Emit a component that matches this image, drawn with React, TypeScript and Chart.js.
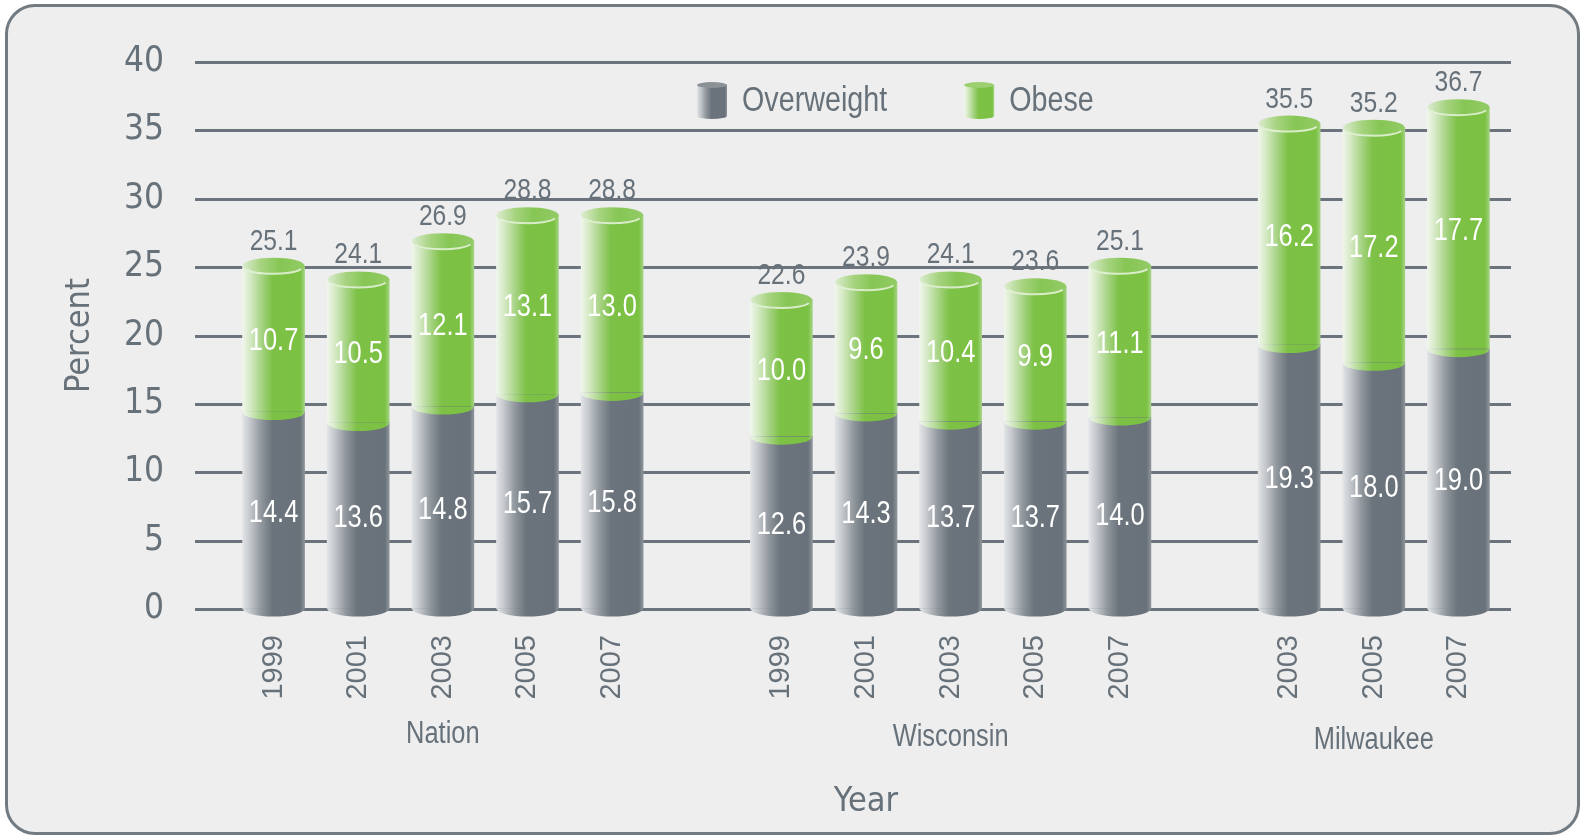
import React, { useEffect, useRef } from 'react';
import { Chart, registerables } from 'chart.js';
Chart.register(...registerables);

// ---------- data ----------
const groupNames = ['Nation', 'Wisconsin', 'Milwaukee'];
const nationYears = ['1999', '2001', '2003', '2005', '2007'];
const wisconsinYears = ['1999', '2001', '2003', '2005', '2007'];
const milwaukeeYears = ['2003', '2005', '2007'];

const nationOverweight = [14.4, 13.6, 14.8, 15.7, 15.8];
const nationObese = [10.7, 10.5, 12.1, 13.1, 13.0];
const nationTotal = [25.1, 24.1, 26.9, 28.8, 28.8];

const wisconsinOverweight = [12.6, 14.3, 13.7, 13.7, 14.0];
const wisconsinObese = [10.0, 9.6, 10.4, 9.9, 11.1];
const wisconsinTotal = [22.6, 23.9, 24.1, 23.6, 25.1];

const milwaukeeOverweight = [19.3, 18.0, 19.0];
const milwaukeeObese = [16.2, 17.2, 17.7];
const milwaukeeTotal = [35.5, 35.2, 36.7];

const seriesNames = ['Overweight', 'Obese'];
const yMin = 0;
const yMax = 40;
const yStep = 5;
const xTitle = 'Year';
const yTitle = 'Percent';

// ---------- category layout: each bar every 4 sub-slots, 7 spare sub-slots between groups ----------
const SLOTS_PER_BAR = 4;
const GAP_SLOTS = 7;
const groupYears = [nationYears, wisconsinYears, milwaukeeYears];
const groupOver = [nationOverweight, wisconsinOverweight, milwaukeeOverweight];
const groupObese = [nationObese, wisconsinObese, milwaukeeObese];
const groupTotal = [nationTotal, wisconsinTotal, milwaukeeTotal];

const labels: string[] = [];
const overData: (number | null)[] = [];
const obeseData: (number | null)[] = [];
const totalData: (number | null)[] = [];
const groupRanges: [number, number][] = [];
function pushEmpty() {
  labels.push('');
  overData.push(null);
  obeseData.push(null);
  totalData.push(null);
}
groupYears.forEach((yrs, g) => {
  if (g > 0) for (let k = 0; k < GAP_SLOTS; k++) pushEmpty();
  const start = labels.length;
  yrs.forEach((y, i) => {
    if (i > 0) for (let k = 0; k < SLOTS_PER_BAR - 1; k++) pushEmpty();
    labels.push(y);
    overData.push(groupOver[g][i]);
    obeseData.push(groupObese[g][i]);
    totalData.push(groupTotal[g][i]);
  });
  groupRanges.push([start, labels.length - 1]);
});

// ---------- styles ----------
const COND = "'DejaVu Sans Condensed', 'Liberation Sans Narrow', sans-serif";
const REGULAR = "'Liberation Sans', Arial, sans-serif";
const TEXT_GRAY = '#67717a';
const GRID = '#6b747c';
const BAR_W = 62;
const RY = 8;
const NARROW_SCALE = 0.82;

function narrowText(ctx: CanvasRenderingContext2D, text: string, x: number, y: number, size: number, align: string) {
  ctx.save();
  ctx.font = `${size}px ${REGULAR}`;
  ctx.textAlign = align as CanvasTextAlign;
  ctx.translate(x, y);
  ctx.scale(NARROW_SCALE, 1);
  ctx.fillText(text, 0, 0);
  ctx.restore();
}

function sideGradient(ctx: CanvasRenderingContext2D, x: number, w: number, kind: string): any {
  if (!isFinite(x) || !isFinite(w) || w <= 0) return kind === 'green' ? '#7bc142' : '#6b747c';
  const g = ctx.createLinearGradient(x - w / 2, 0, x + w / 2, 0);
  if (kind === 'green') {
    g.addColorStop(0, '#f0f6eb');
    g.addColorStop(0.12, '#d6eac6');
    g.addColorStop(0.3, '#a8d486');
    g.addColorStop(0.48, '#7dc146');
    g.addColorStop(0.93, '#7bc142');
    g.addColorStop(1, '#a3d383');
  } else {
    g.addColorStop(0, '#e2e4e6');
    g.addColorStop(0.12, '#c4c8cc');
    g.addColorStop(0.3, '#90979d');
    g.addColorStop(0.48, '#6b747c');
    g.addColorStop(0.93, '#69727a');
    g.addColorStop(1, '#8d949a');
  }
  return g;
}

function capGradient(ctx: CanvasRenderingContext2D, x: number, w: number): any {
  if (!isFinite(x)) return '#8cc85a';
  const g = ctx.createLinearGradient(x - w / 2, 0, x + w / 2, 0);
  g.addColorStop(0, '#dcecd0');
  g.addColorStop(0.3, '#a6d37f');
  g.addColorStop(0.6, '#86c654');
  g.addColorStop(1, '#93cb66');
  return g;
}

function scriptedFill(kind: string) {
  return (c: any) => {
    const chart = c.chart;
    const xs = chart.scales && chart.scales.x;
    if (!xs || c.type !== 'data') return kind === 'green' ? '#7bc142' : '#6b747c';
    const x = xs.getPixelForValue(c.dataIndex);
    return sideGradient(chart.ctx, x, BAR_W, kind);
  };
}

const gridPlugin = {
  id: 'extGrid',
  beforeDatasetsDraw(chart: any) {
    const { ctx, chartArea } = chart;
    const ys = chart.scales.y;
    ctx.save();
    ctx.strokeStyle = GRID;
    ctx.lineWidth = 3;
    ys.ticks.forEach((t: any) => {
      const y = Math.round(ys.getPixelForValue(t.value)) + 0.5;
      ctx.beginPath();
      ctx.moveTo(chartArea.left - 68, y);
      ctx.lineTo(chartArea.right + 42, y);
      ctx.stroke();
    });
    ctx.restore();
  },
};

const cylinderPlugin = {
  id: 'cylinders',
  afterDatasetsDraw(chart: any) {
    const { ctx } = chart;
    const m0 = chart.getDatasetMeta(0);
    const m1 = chart.getDatasetMeta(1);
    ctx.save();
    m0.data.forEach((bar: any, i: number) => {
      if (chart.data.datasets[0].data[i] == null) return;
      const b = bar.getProps(['x', 'y', 'base', 'width'], true);
      const t = m1.data[i].getProps(['x', 'y', 'base', 'width'], true);
      const w = b.width;
      if (!isFinite(b.x) || !isFinite(w)) return;
      ctx.fillStyle = sideGradient(ctx, b.x, w, 'gray');
      ctx.beginPath();
      ctx.ellipse(b.x, b.base, w / 2, RY, 0, 0, Math.PI);
      ctx.fill();
      ctx.fillStyle = sideGradient(ctx, t.x, w, 'green');
      ctx.beginPath();
      ctx.ellipse(t.x, t.base, w / 2, RY, 0, 0, Math.PI);
      ctx.fill();
      ctx.fillStyle = capGradient(ctx, t.x, w);
      ctx.beginPath();
      ctx.ellipse(t.x, t.y, w / 2, RY, 0, 0, Math.PI * 2);
      ctx.fill();
      ctx.strokeStyle = 'rgba(226,241,214,0.9)';
      ctx.lineWidth = 2;
      ctx.beginPath();
      ctx.ellipse(t.x, t.y + 2, w / 2 - 3, RY - 2, 0, 0.2, Math.PI - 0.2);
      ctx.stroke();
    });

    m0.data.forEach((bar: any, i: number) => {
      const ov = chart.data.datasets[0].data[i];
      if (ov == null) return;
      const ob = chart.data.datasets[1].data[i];
      const b = bar.getProps(['x', 'y', 'base'], true);
      const t = m1.data[i].getProps(['x', 'y', 'base'], true);
      ctx.fillStyle = '#ffffff';
      ctx.textBaseline = 'middle';
      narrowText(ctx, Number(ov).toFixed(1), b.x, (b.y + b.base) / 2 + 3, 31, 'center');
      narrowText(ctx, Number(ob).toFixed(1), t.x, (t.y + t.base) / 2 + 3, 31, 'center');
      ctx.fillStyle = TEXT_GRAY;
      ctx.textBaseline = 'alphabetic';
      narrowText(ctx, Number(totalData[i]).toFixed(1), t.x, t.y - 16, 30, 'center');
    });
    ctx.restore();
  },
};

const decorPlugin = {
  id: 'decor',
  afterDraw(chart: any) {
    const { ctx } = chart;
    const xs = chart.scales.x;
    ctx.save();
    ctx.fillStyle = TEXT_GRAY;
    ctx.textBaseline = 'middle';
    groupRanges.forEach(([a, b], g) => {
      const x = (xs.getPixelForValue(a) + xs.getPixelForValue(b)) / 2;
      narrowText(ctx, groupNames[g], x, 734 + g * 3, 31, 'center');
    });
    let lx = 697;
    const ly = 100;
    chart.data.datasets.forEach((ds: any, k: number) => {
      const kind = k === 0 ? 'gray' : 'green';
      const iw = 30;
      const cx = lx + iw / 2;
      ctx.fillStyle = sideGradient(ctx, cx, iw, kind);
      ctx.fillRect(lx, ly - 15, iw, 31);
      ctx.beginPath();
      ctx.ellipse(cx, ly + 16, iw / 2, 3, 0, 0, Math.PI);
      ctx.fill();
      ctx.fillStyle = kind === 'green' ? '#9ccf70' : '#8a9298';
      ctx.beginPath();
      ctx.ellipse(cx, ly - 15, iw / 2, 3, 0, 0, Math.PI * 2);
      ctx.fill();
      ctx.fillStyle = TEXT_GRAY;
      ctx.textBaseline = 'middle';
      narrowText(ctx, ds.label, lx + iw + 15, ly + 1, 35, 'left');
      ctx.font = `35px ${REGULAR}`;
      lx += iw + 15 + ctx.measureText(ds.label).width * NARROW_SCALE + 77;
    });
    ctx.restore();
  },
};

export default function App() {
  const ref = useRef<HTMLCanvasElement | null>(null);
  useEffect(() => {
    if (!ref.current) return;
    let chart: any = null;
    try {
      chart = new Chart(ref.current, {
        type: 'bar',
        data: {
          labels,
          datasets: [
            {
              label: seriesNames[0],
              data: overData,
              backgroundColor: scriptedFill('gray'),
              borderWidth: 0,
              barThickness: BAR_W,
              clip: false,
            },
            {
              label: seriesNames[1],
              data: obeseData,
              backgroundColor: scriptedFill('green'),
              borderWidth: 0,
              barThickness: BAR_W,
              clip: false,
            },
          ],
        },
        options: {
          animation: false,
          responsive: false,
          devicePixelRatio: 1,
          layout: { padding: { left: 0, top: 62, right: 114, bottom: 0 } },
          plugins: { legend: { display: false }, tooltip: { enabled: false } },
          scales: {
            x: {
              stacked: true,
              offset: true,
              grid: { display: false },
              border: { display: false },
              ticks: {
                autoSkip: false,
                maxRotation: 90,
                minRotation: 90,
                padding: 18,
                color: TEXT_GRAY,
                font: { family: REGULAR, size: 29 },
              },
              title: {
                display: true,
                text: xTitle,
                color: TEXT_GRAY,
                font: { family: COND, size: 34, lineHeight: 1.2 },
                padding: { top: 0, bottom: 14 },
              },
              afterFit: (s: any) => {
                s.height = 228;
              },
            },
            y: {
              stacked: true,
              min: yMin,
              max: yMax,
              grid: {
                display: true,
                drawOnChartArea: false,
                drawTicks: true,
                tickLength: 92,
                color: 'rgba(0,0,0,0)',
              },
              border: { display: false },
              ticks: {
                stepSize: yStep,
                padding: 7,
                color: TEXT_GRAY,
                font: { family: COND, size: 35 },
              },
              title: {
                display: true,
                text: yTitle,
                color: TEXT_GRAY,
                font: { family: COND, size: 34, lineHeight: 1.2 },
                padding: { top: 60, bottom: 0 },
              },
              afterFit: (s: any) => {
                s.width = 263;
              },
            },
          },
        },
        plugins: [gridPlugin, cylinderPlugin, decorPlugin],
      } as any);
    } catch (e) {
      console.error(e);
    }
    return () => {
      if (chart) chart.destroy();
    };
  }, []);

  return (
    <div style={{ position: 'fixed', left: 0, top: 0, width: 1583, height: 837, background: '#ffffff', overflow: 'hidden' }}>
      <div
        style={{
          position: 'absolute',
          left: 5,
          top: 4,
          width: 1575,
          height: 831,
          boxSizing: 'border-box',
          border: '3px solid #737b82',
          borderRadius: 30,
          background: '#eeeeee',
        }}
      />
      <canvas
        ref={ref}
        width={1583}
        height={837}
        style={{ position: 'absolute', left: 0, top: 0, width: 1583, height: 837 }}
      />
    </div>
  );
}
